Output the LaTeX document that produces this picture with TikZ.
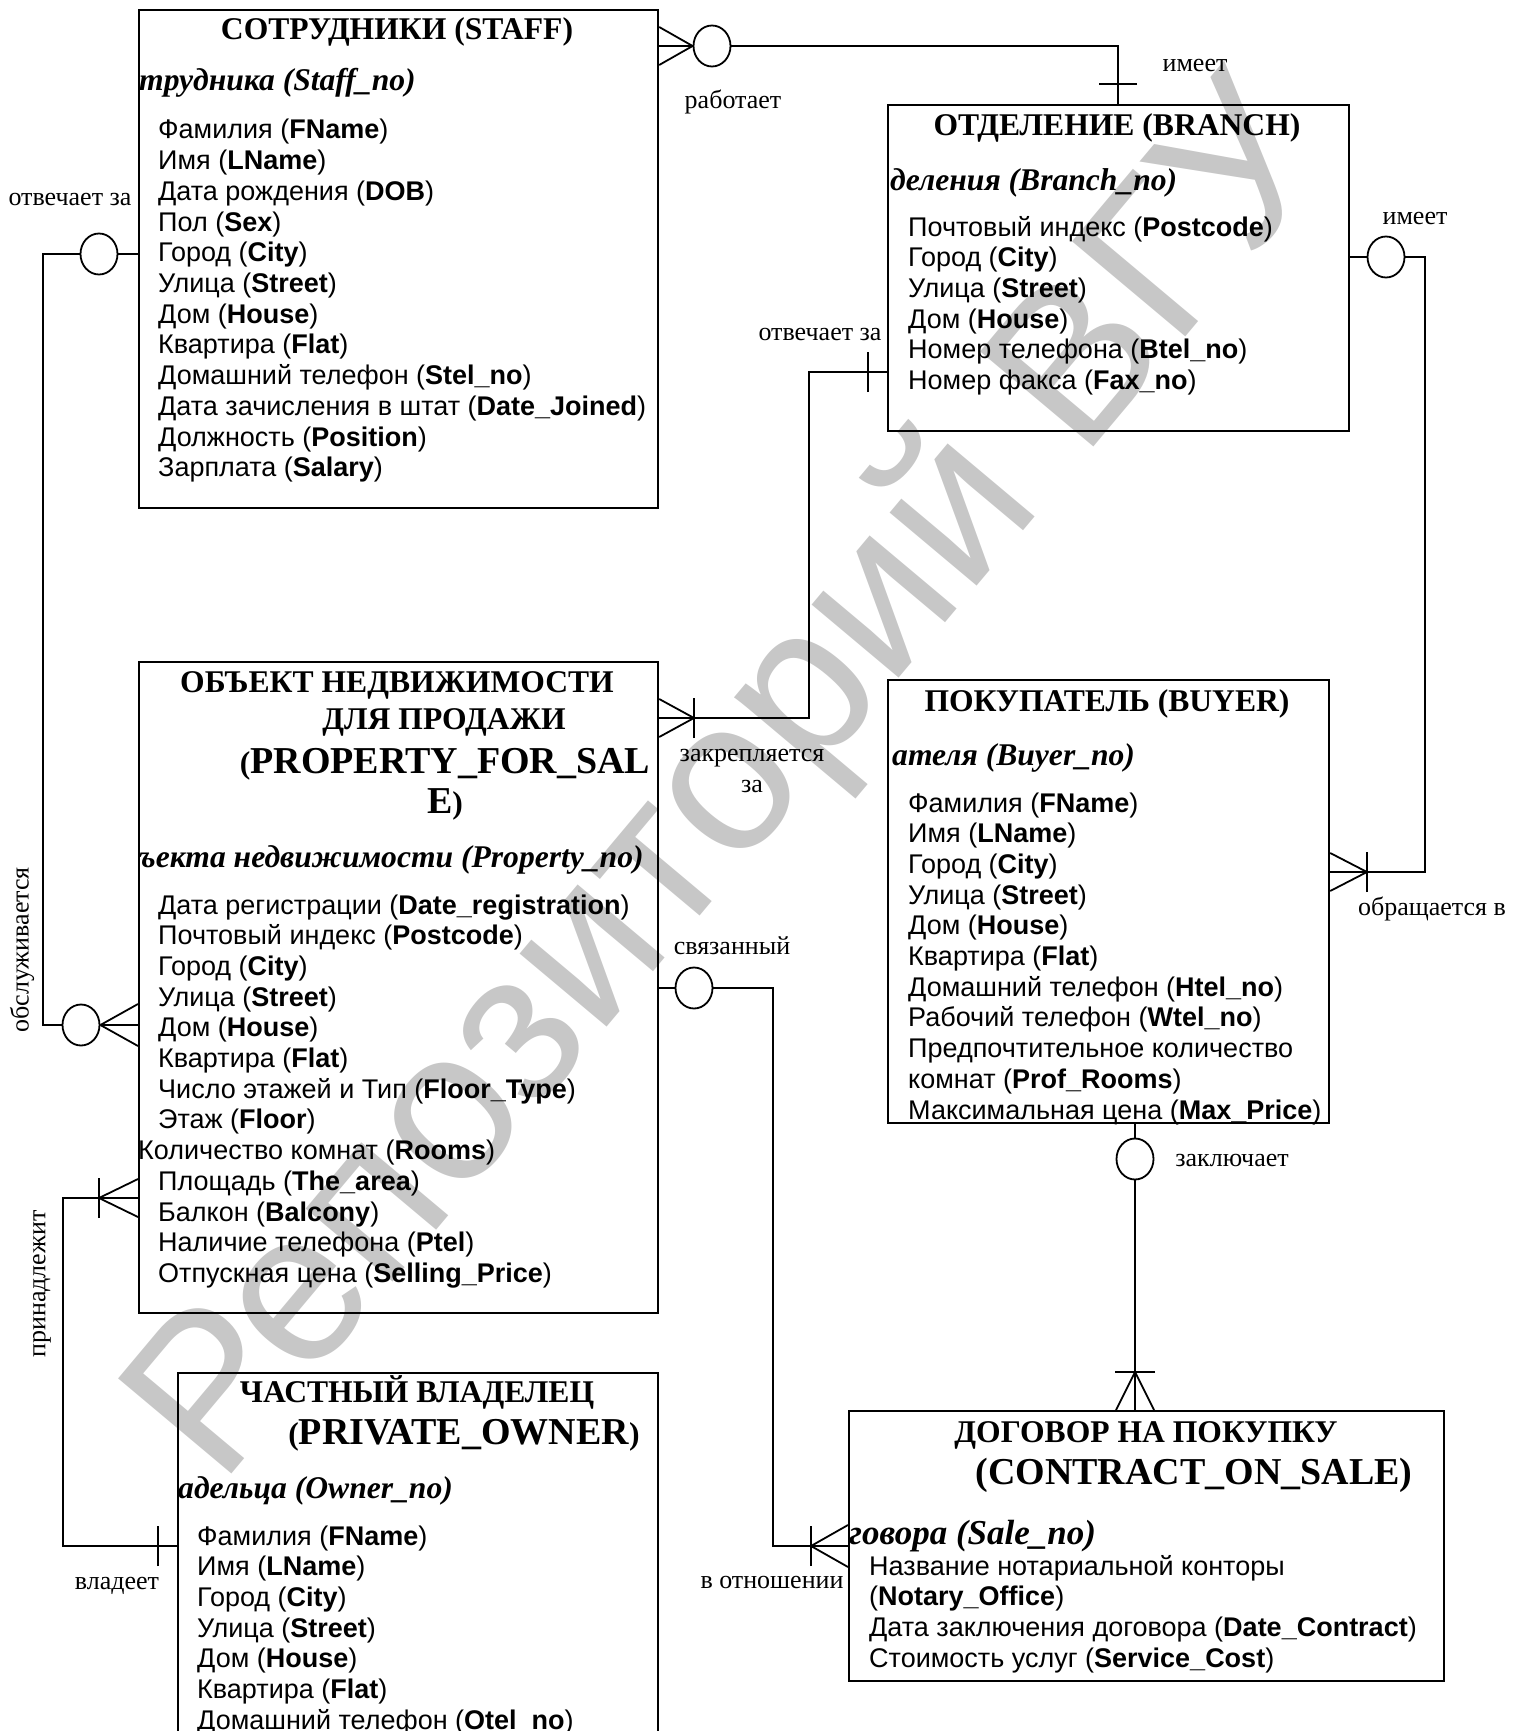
\documentclass[tikz,border=0pt]{standalone}
\usepackage{fontspec}
\setmainfont{Liberation Serif}
\newfontfamily\arialf{Liberation Sans}
\usetikzlibrary{calc,shapes.geometric}
\tikzset{
  entity/.style={draw, line width=2.2pt, anchor=north west, inner sep=0pt},
  opt/.style={draw, ellipse, line width=1.8pt, minimum width=37pt,
              minimum height=41pt, inner sep=0pt},
  rel/.style={line width=1.8pt},
  ttl/.style={font=\bfseries\fontsize{31.6}{36}\selectfont, anchor=base, inner sep=0pt},
  bigttl/.style={font=\bfseries\fontsize{38}{42}\selectfont, anchor=base, inner sep=0pt},
  keyattr/.style={font=\bfseries\itshape\fontsize{31.6}{36}\selectfont,
                  anchor=base west, inner sep=0pt},
  attr/.style={font=\arialf\fontsize{27}{31}\selectfont, anchor=base west, inner sep=0pt},
  lbl/.style={font=\fontsize{26}{30}\selectfont, anchor=base, inner sep=0pt},
  vlbl/.style={font=\fontsize{26}{30}\selectfont, rotate=90, inner sep=0pt},
  wmark/.style={font=\arialf\fontsize{215}{215}\selectfont, text=black!22, rotate=50},
}
% crow's foot: tip, point on the box, half spread
\newcommand\crowfoot[3]{\draw[rel] (#1) -- (#2) (#1) -- ($(#2)+(#3)$) (#1) -- ($(#2)-(#3)$);}
% bar across a connector
\newcommand\crowbar[2]{\draw[rel] ($(#1)+(#2)$) -- ($(#1)-(#2)$);}

\begin{document}
\begin{tikzpicture}[x=1pt, y=-1pt]
  \useasboundingbox (0,0) rectangle (1515,1731);
  \clip (0,0) rectangle (1515,1731);
  % watermark
  \node[wmark] (wm) at (735,785) {Репозиторий ВГУ};

  % entities
  \node[entity, minimum width=519pt, minimum height=498pt] (staff) at (138,9) {};
  \node[entity, minimum width=461pt, minimum height=326pt] (branch) at (887,104) {};
  \node[entity, minimum width=519pt, minimum height=651pt] (prop) at (138,661) {};
  \node[entity, minimum width=441pt, minimum height=443pt] (buyer) at (887,679) {};
  \node[entity, minimum width=480pt, minimum height=420pt] (owner) at (177,1372) {};
  \node[entity, minimum width=595pt, minimum height=270pt] (contract) at (848,1410) {};

  % titles
  \node[ttl] (tStaff) at (397,40) {СОТРУДНИКИ (STAFF)};
  \node[ttl] (tBranch) at (1117,136) {ОТДЕЛЕНИЕ (BRANCH)};
  \node[ttl] (tProp1) at (397,692) {ОБЪЕКТ НЕДВИЖИМОСТИ};
  \node[ttl] (tProp2) at (444,729) {ДЛЯ ПРОДАЖИ};
  \node[bigttl] (tProp3) at (445,773) {{\fontsize{31.6}{36}\selectfont(}PROPERTY\_FOR\_SAL};
  \node[bigttl] (tProp4) at (445,813) {E{\fontsize{31.6}{36}\selectfont)}};
  \node[ttl] (tBuyer) at (1107,711) {ПОКУПАТЕЛЬ (BUYER)};
  \node[ttl] (tOwner1) at (417,1402) {ЧАСТНЫЙ ВЛАДЕЛЕЦ};
  \node[bigttl] (tOwner2) at (464,1444) {{\fontsize{31.6}{36}\selectfont(}PRIVATE\_OWNER{\fontsize{31.6}{36}\selectfont)}};
  \node[ttl] (tSale1) at (1146,1442) {ДОГОВОР НА ПОКУПКУ};
  \node[bigttl] (tSale2) at (1194,1484) {(CONTRACT\_ON\_SALE)};

  % keys
  \node[keyattr] (kStaff) at (139,91) {трудника (Staff\_no)};
  \node[keyattr] (kBranch) at (890,190) {деления (Branch\_no)};
  \node[keyattr] (kProp) at (139,867) {ъекта недвижимости (Property\_no)};
  \node[keyattr] (kBuyer) at (892,765) {ателя (Buyer\_no)};
  \node[keyattr] (kOwner) at (178,1498) {адельца (Owner\_no)};
  \node[keyattr, font=\bfseries\itshape\fontsize{35}{40}\selectfont] (kSale) at (849,1544) {говора (Sale\_no)};

  % attributes
  \foreach \t [count=\i from 0] in {Фамилия (\textbf{FName}), Имя (\textbf{LName}),
      Дата рождения (\textbf{DOB}), Пол (\textbf{Sex}), Город (\textbf{City}),
      Улица (\textbf{Street}), Дом (\textbf{House}), Квартира (\textbf{Flat}),
      Домашний телефон (\textbf{Stel\_no}), Дата зачисления в штат (\textbf{Date\_Joined}),
      Должность (\textbf{Position}), Зарплата (\textbf{Salary})}
    \node[attr] (aStaff\i) at (158,139+30.7*\i) {\t};
  \foreach \t [count=\i from 0] in {Почтовый индекс (\textbf{Postcode}), Город (\textbf{City}),
      Улица (\textbf{Street}), Дом (\textbf{House}), Номер телефона (\textbf{Btel\_no}),
      Номер факса (\textbf{Fax\_no})}
    \node[attr] (aBranch\i) at (908,236+30.7*\i) {\t};
  \foreach \t [count=\i from 0] in {Дата регистрации (\textbf{Date\_registration}),
      Почтовый индекс (\textbf{Postcode}), Город (\textbf{City}), Улица (\textbf{Street}),
      Дом (\textbf{House}), Квартира (\textbf{Flat}), Число этажей и Тип (\textbf{Floor\_Type}),
      Этаж (\textbf{Floor}), \hspace*{-20pt}Количество комнат (\textbf{Rooms}),
      Площадь (\textbf{The\_area}), Балкон (\textbf{Balcony}), Наличие телефона (\textbf{Ptel}),
      Отпускная цена (\textbf{Selling\_Price})}
    \node[attr] (aProp\i) at (158,914+30.7*\i) {\t};
  \foreach \t [count=\i from 0] in {Фамилия (\textbf{FName}), Имя (\textbf{LName}),
      Город (\textbf{City}), Улица (\textbf{Street}), Дом (\textbf{House}),
      Квартира (\textbf{Flat}), Домашний телефон (\textbf{Htel\_no}),
      Рабочий телефон (\textbf{Wtel\_no}), Предпочтительное количество,
      комнат (\textbf{Prof\_Rooms}), Максимальная цена (\textbf{Max\_Price})}
    \node[attr] (aBuyer\i) at (908,812+30.7*\i) {\t};
  \foreach \t [count=\i from 0] in {Фамилия (\textbf{FName}), Имя (\textbf{LName}),
      Город (\textbf{City}), Улица (\textbf{Street}), Дом (\textbf{House}),
      Квартира (\textbf{Flat}), Домашний телефон (\textbf{Otel\_no})}
    \node[attr] (aOwner\i) at (197,1545+30.7*\i) {\t};
  \foreach \t [count=\i from 0] in {Название нотариальной конторы, (\textbf{Notary\_Office}),
      Дата заключения договора (\textbf{Date\_Contract}), Стоимость услуг (\textbf{Service\_Cost})}
    \node[attr] (aSale\i) at (869,1575+30.7*\i) {\t};

  % optionality circles
  \node[opt] (c1) at (99,254) {};
  \node[opt] (c2) at (81,1025) {};
  \node[opt] (c3) at (712,46) {};
  \node[opt] (c4) at (1386,257) {};
  \node[opt] (c5) at (694,988) {};
  \node[opt] (c6) at (1135,1159) {};

  % bend points on the boxes
  \coordinate (kBr) at (887,372);
  \coordinate (kPr) at (694,718);
  \coordinate (kBt) at (1118,104);
  \coordinate (kBuy) at (1367,872);
  \coordinate (kOw) at (99,1198);
  \coordinate (kOw2) at (177,1546);
  \coordinate (kCo) at (811,1546);
  \coordinate (kSa) at (1135,1372);

  % staff -- property
  \draw[rel] (c1.east) -- (c1 -| staff.west);
  \draw[rel] (c1.west) -- ++(-36.5,0) |- (c2.west);
  \crowfoot{c2.east}{c2.east -| prop.west}{0,21}
  % staff -- branch
  \crowfoot{c3.west}{c3.west -| staff.east}{0,19}
  \draw[rel] (c3.east) -| (kBt);
  \crowbar{$(kBt)+(0,-20)$}{19,0}
  % branch -- buyer
  \draw[rel] (c4.west) -- (c4 -| branch.east);
  \draw[rel] (c4.east) -- ++(19.5,0) |- (kBuy);
  \crowfoot{kBuy}{kBuy -| buyer.east}{0,19}
  \crowbar{kBuy}{0,20}
  % branch -- property
  \draw[rel] (kBr) -- ++(-78,0) |- (kPr);
  \crowbar{$(kBr)+(-19,0)$}{0,20}
  \crowfoot{kPr}{kPr -| prop.east}{0,19}
  \crowbar{kPr}{0,20}
  % property -- owner
  \crowfoot{kOw}{kOw -| prop.west}{0,19}
  \crowbar{kOw}{0,20}
  \draw[rel] (kOw) -- ++(-36,0) |- (kOw2);
  \crowbar{$(kOw2)+(-19,0)$}{0,20}
  % property -- contract
  \draw[rel] (c5.west) -- (c5 -| prop.east);
  \draw[rel] (c5.east) -- ++(59.5,0) |- (kCo);
  \crowfoot{kCo}{kCo -| contract.west}{0,21}
  \crowbar{kCo}{0,20}
  % buyer -- contract
  \draw[rel] (c6.north) -- (c6 |- buyer.south);
  \draw[rel] (c6.south) -- (kSa);
  \crowfoot{kSa}{kSa |- contract.north}{19,0}
  \crowbar{kSa}{20,0}

  % relationship labels
  \node[lbl] (lResp) at (70,206) {отвечает за};
  \node[lbl] (lWork) at (733,109) {работает};
  \node[lbl] (lHas1) at (1195,72) {имеет};
  \node[lbl] (lHas2) at (1415,225) {имеет};
  \node[lbl] (lResp2) at (820,340) {отвечает за};
  \node[lbl] (lFix1) at (752,761) {закрепляется};
  \node[lbl] (lFix2) at (752,792) {за};
  \node[lbl] (lAsk) at (1432,915) {обращается в};
  \node[lbl] (lLink) at (732,954) {связанный};
  \node[lbl] (lOwns) at (117,1589) {владеет};
  \node[lbl] (lRel) at (772,1588) {в отношении};
  \node[lbl] (lSign) at (1232,1166) {заключает};
  \node[vlbl] (lServ) at (22,950) {обслуживается};
  \node[vlbl] (lBel) at (42,1284) {принадлежит};
\end{tikzpicture}
\end{document}
